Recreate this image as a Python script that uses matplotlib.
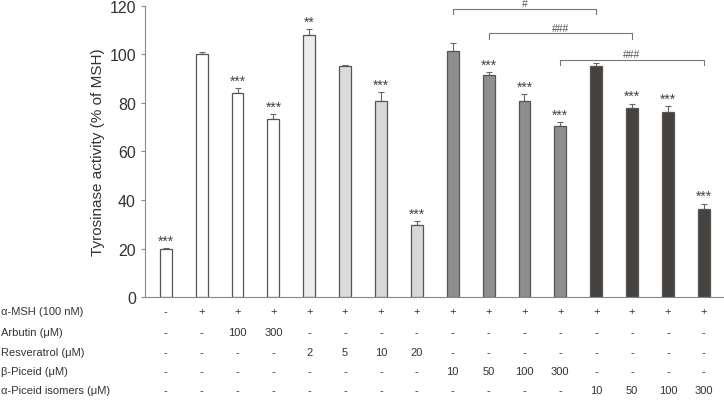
import matplotlib.pyplot as plt
import matplotlib.transforms as mtransforms

plt.rcParams['font.family'] = ['Liberation Sans', 'DejaVu Sans']

# bar heights and upward error
values = [19.8, 100.0, 84.2, 73.4, 108.0, 95.2, 80.8, 29.7,
          101.6, 91.5, 81.0, 70.4, 95.4, 77.8, 76.4, 36.2]
errors = [0.3, 1.0, 2.0, 2.0, 2.6, 0.6, 3.7, 1.6,
          3.1, 1.2, 2.7, 1.6, 1.0, 1.9, 2.2, 2.3]
stars = ['***', '', '***', '***', '**', '', '***', '***',
         '', '***', '***', '***', '', '***', '***', '***']
bar_colors = ['white'] * 4 + ['#ececec', '#dadada', '#d8d8d8', '#d8d8d8'] \
    + ['#8e8e8e'] * 4 + ['#464240'] * 4

row_labels = ['α-MSH (100 nM)', 'Arbutin (μM)', 'Resveratrol (μM)',
              'β-Piceid (μM)', 'α-Piceid isomers (μM)']
rows = [
    ['-', '+', '+', '+', '+', '+', '+', '+', '+', '+', '+', '+', '+', '+', '+', '+'],
    ['-', '-', '100', '300', '-', '-', '-', '-', '-', '-', '-', '-', '-', '-', '-', '-'],
    ['-', '-', '-', '-', '2', '5', '10', '20', '-', '-', '-', '-', '-', '-', '-', '-'],
    ['-', '-', '-', '-', '-', '-', '-', '-', '10', '50', '100', '300', '-', '-', '-', '-'],
    ['-', '-', '-', '-', '-', '-', '-', '-', '-', '-', '-', '-', '10', '50', '100', '300'],
]

# brackets: (from bar, to bar, height, label)
brackets = [(8, 12, 118.8, '#'), (9, 13, 108.7, '###'), (11, 15, 97.9, '###')]

fig = plt.figure(figsize=(7.24, 4.02), dpi=100)
ax = fig.add_axes([0.2003, 0.2587, 0.798, 0.7239])

x = list(range(len(values)))
ax.bar(x, values, width=0.33, color=bar_colors, edgecolor='#555555', linewidth=0.9, zorder=2)
ax.errorbar(x, values, yerr=[[0] * len(errors), errors], fmt='none',
            ecolor='#666666', elinewidth=0.8, capsize=2, capthick=0.8, zorder=1)

for i, s in enumerate(stars):
    if s:
        ax.text(i, values[i] + errors[i] + 0.2, s, ha='center', va='bottom',
                fontsize=10, color='#444444')

for a, b, h, lab in brackets:
    ax.plot([a, a, b, b], [h - 2.3, h, h, h - 2.3], color='#777777', lw=0.8, clip_on=False)
    ax.text((a + b) / 2, h + 0.3, lab, ha='center', va='bottom', fontsize=7.5,
            color='#555555', clip_on=False)

ax.set_xlim(-0.58, 15.53)
ax.set_ylim(0, 120)
ax.set_yticks(range(0, 121, 20))
ax.set_xticks([])
ax.spines['top'].set_visible(False)
ax.spines['right'].set_visible(False)
ax.spines['left'].set_color('#888888')
ax.spines['bottom'].set_color('#888888')
ax.tick_params(axis='y', length=3, color='#888888', labelsize=11.5, labelcolor='#333333')
ax.set_ylabel('Tyrosinase activity (% of MSH)', fontsize=11, color='#333333', labelpad=3)

# treatment table under the axis
trans = mtransforms.blended_transform_factory(ax.transData, fig.transFigure)
row_y = [312, 333, 353, 372, 391]
for r, (lab, vals) in enumerate(zip(row_labels, rows)):
    yf = 1 - row_y[r] / 402
    fig.text(0.002, yf, lab, ha='left', va='center', fontsize=8, color='#333333')
    for i, v in enumerate(vals):
        ax.text(i, yf, v, transform=trans, ha='center', va='center',
                fontsize=8, color='#333333', clip_on=False)

fig.savefig('out.png', dpi=100)
